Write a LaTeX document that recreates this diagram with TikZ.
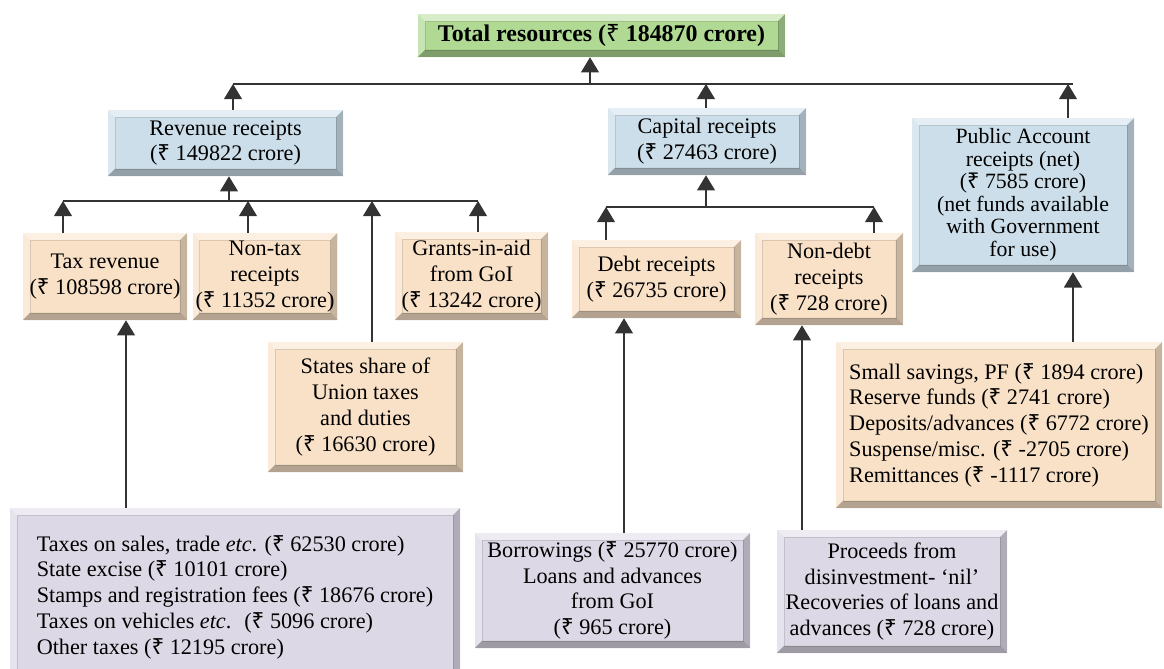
\documentclass[tikz,border=0pt]{standalone}
\usepackage{fontspec}
\setmainfont{Liberation Serif}
\newfontfamily\rsfont{Noto Sans}
\usetikzlibrary{arrows.meta, positioning}

\definecolor{totgreen}{RGB}{176,218,148}
\definecolor{headblue}{RGB}{204,222,233}
\definecolor{peach}{RGB}{249,225,199}
\definecolor{lilac}{RGB}{221,216,229}
\newcommand{\rs}{{\rsfont ₹}}

\begin{document}
\begin{tikzpicture}[
    x=0.025cm, y=-0.025cm,
    font=\fontsize{15.8}{18.3}\selectfont,
    >={Triangle[width=0.45cm,length=0.38cm]},
    bevel/.style={path picture={
        \coordinate (bnw) at (path picture bounding box.north west);
        \coordinate (bne) at (path picture bounding box.north east);
        \coordinate (bsw) at (path picture bounding box.south west);
        \coordinate (bse) at (path picture bounding box.south east);
        \fill[white, opacity=.5] (bnw) -- (bne) -- ([shift={(-5pt,-5pt)}]bne) -- ([shift={(5pt,-5pt)}]bnw) -- cycle;
        \fill[white, opacity=.3] (bnw) -- ([shift={(5pt,-5pt)}]bnw) -- ([shift={(5pt,5pt)}]bsw) -- (bsw) -- cycle;
        \fill[black, opacity=.2] (bne) -- (bse) -- ([shift={(-5pt,5pt)}]bse) -- ([shift={(-5pt,-5pt)}]bne) -- cycle;
        \fill[black, opacity=.28] (bsw) -- (bse) -- ([shift={(-5pt,5pt)}]bse) -- ([shift={(5pt,5pt)}]bsw) -- cycle;
        \draw[black, opacity=.12, line width=.4pt] ([shift={(5pt,-5pt)}]bnw) rectangle ([shift={(-5pt,5pt)}]bse);
    }},
    box/.style={rectangle, bevel, align=center, inner sep=2pt},
    totbox/.style={box, fill=totgreen, font=\fontsize{17}{19}\selectfont\bfseries},
    headbox/.style={box, fill=headblue},
    subbox/.style={box, fill=peach},
    itembox/.style={box, fill=lilac},
    bar/.style={draw=black!80, line width=0.9pt},
    line/.style={bar, ->}
]
\useasboundingbox (0,0) rectangle (1164,669);
\fill[white] (0,0) rectangle (1164,669);

% Nodes
\node[totbox, minimum width=9.175cm, minimum height=1.075cm] (total) at (601.5,35.5) {Total resources (\rs{} 184870 crore)};
\node[headbox, minimum width=5.875cm, minimum height=1.65cm] (revenue) at (225.5,143) {Revenue receipts\\(\rs{} 149822 crore)};
\node[headbox, minimum width=4.95cm, minimum height=1.675cm] (capital) at (707,141.5) {Capital receipts\\(\rs{} 27463 crore)};
\node[headbox, minimum width=5.55cm, minimum height=3.85cm, font=\fontsize{15.5}{16}\selectfont] (public) at (1023,195) {Public Account\\receipts (net)\\(\rs{} 7585 crore)\\(net funds available\\with Government\\for use)};

\node[subbox, minimum width=4.1cm, minimum height=2.175cm] (tax) at (105,276.5) {Tax revenue\\(\rs{} 108598 crore)};
\node[subbox, minimum width=3.35cm, minimum height=2.175cm] (nontax) at (265,276.5) {Non-tax\\receipts\\(\rs{} 11352 crore)};
\node[subbox, minimum width=3.825cm, minimum height=2.2cm] (grants) at (471.5,276) {Grants-in-aid\\from GoI\\(\rs{} 13242 crore)};
\node[subbox, minimum width=4.875cm, minimum height=3.25cm] (states) at (365.5,407) {States share of\\Union taxes\\and duties\\(\rs{} 16630 crore)};
\node[subbox, minimum width=4.225cm, minimum height=1.95cm] (debt) at (656.5,279) {Debt receipts\\(\rs{} 26735 crore)};
\node[subbox, minimum width=3.7cm, minimum height=2.3cm] (nondebt) at (829,279) {Non-debt\\receipts\\(\rs{} 728 crore)};
\node[subbox, minimum width=8.15cm, minimum height=4.15cm, align=left] (savings) at (999,425) {Small savings, PF (\rs{} 1894 crore)\\Reserve funds (\rs{} 2741 crore)\\Deposits/advances (\rs{} 6772 crore)\\Suspense/misc. (\rs{} -2705 crore)\\Remittances (\rs{} -1117 crore)};

\node[itembox, minimum width=11.25cm, minimum height=4.45cm, align=left] (taxlist) at (235,597) {Taxes on sales, trade \textit{etc}. (\rs{} 62530 crore)\\State excise (\rs{} 10101 crore)\\Stamps and registration fees (\rs{} 18676 crore)\\Taxes on vehicles \textit{etc}.~ (\rs{} 5096 crore)\\Other taxes (\rs{} 12195 crore)};
\node[itembox, minimum width=6.875cm, minimum height=2.875cm] (borrow) at (612.5,590.5) {Borrowings (\rs{} 25770 crore)\\Loans and advances\\from GoI\\(\rs{} 965 crore)};
\node[itembox, minimum width=5.75cm, minimum height=3.075cm] (proceeds) at (892,591.5) {Proceeds from\\disinvestment- `nil'\\Recoveries of loans and\\advances (\rs{} 728 crore)};

% Bars
\coordinate (topL) at (233,84);
\coordinate (topM) at (590,84);
\coordinate (topC) at (706,84);
\coordinate (topR) at (1068,84);
\coordinate (revL) at (63,201);
\coordinate (revM) at (229,201);
\coordinate (revB) at (248,201);
\coordinate (revC) at (372,201);
\coordinate (revR) at (478,201);
\coordinate (capL) at (606,207);
\coordinate (capM) at (706,207);
\coordinate (capR) at (874,207);

\draw[bar] (topL) -- (1073,84);
\draw[bar] (revL) -- (revR);
\draw[bar] (capL) -- (capR);

% Edges
\draw[line] (topM) -- (topM |- total.south);
\draw[line] (topL |- revenue.north) -- (topL);
\draw[line] (topC |- capital.north) -- (topC);
\draw[line] (topR |- public.north) -- (topR);

\draw[line] (revM) -- (revM |- revenue.south);
\draw[line] (revL |- tax.north) -- (revL);
\draw[line] (revB |- nontax.north) -- (revB);
\draw[line] (revC |- states.north) -- (revC);
\draw[line] (revR |- grants.north) -- (revR);

\draw[line] (capM) -- (capM |- capital.south);
\draw[line] (capL |- debt.north) -- (capL);
\draw[line] (capR |- nondebt.north) -- (capR);

% Item edges
\draw[line] (126,0 |- taxlist.north) -- (126,0 |- tax.south);
\draw[line] (624,0 |- borrow.north) -- (624,0 |- debt.south);
\draw[line] (802,0 |- proceeds.north) -- (802,0 |- nondebt.south);
\draw[line] (1073,0 |- savings.north) -- (1073,0 |- public.south);

\end{tikzpicture}
\end{document}
